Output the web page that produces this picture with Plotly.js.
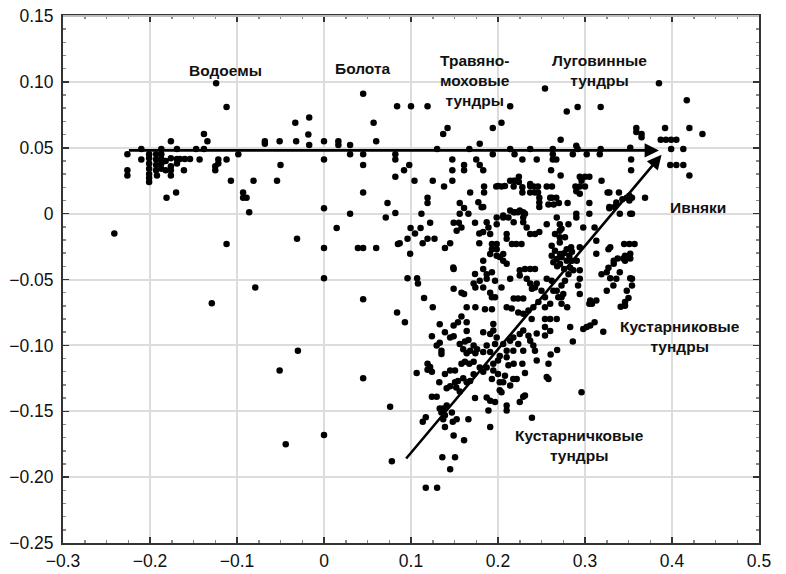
<!DOCTYPE html>
<html><head><meta charset="utf-8">
<script src="https://cdn.plot.ly/plotly-3.0.1.min.js"></script>
<style>html,body{margin:0;padding:0;background:#fff}#chart{width:786px;height:574px}</style>
</head><body><div id="chart"></div>
<script>
// ---- data (ordination scores) ----
const westPoints = [
[-0.241,-0.015],[-0.226,0.045],[-0.226,0.033],[-0.226,0.029],[-0.210,0.041],[-0.210,0.049],
[-0.201,0.045],[-0.201,0.042],[-0.201,0.038],[-0.201,0.034],[-0.201,0.030],[-0.201,0.027],[-0.201,0.024],
[-0.193,0.045],[-0.193,0.041],[-0.193,0.037],[-0.193,0.033],[-0.192,0.029],
[-0.187,0.049],[-0.187,0.045],[-0.187,0.0415],[-0.187,0.038],[-0.187,0.034],
[-0.182,0.040],[-0.182,0.033],[-0.181,0.012],
[-0.176,0.055],[-0.176,0.042],[-0.176,0.036],[-0.176,0.033],[-0.176,0.029],[-0.170,0.016],
[-0.169,0.0415],[-0.169,0.038],[-0.169,0.049],[-0.1655,0.0415],[-0.160,0.0415],[-0.154,0.0415],[-0.161,0.033],
[-0.147,0.049],[-0.143,0.041],[-0.138,0.0605],[-0.138,0.049],[-0.134,0.055],[-0.125,0.036],[-0.125,0.033],
[-0.124,0.099],[-0.1215,0.041],[-0.1215,0.038],[-0.112,0.081],[-0.112,0.041],[-0.112,-0.023],
[-0.107,0.025],[-0.0985,0.045],[-0.093,0.016],[-0.093,0.012],[-0.089,0.012],[-0.086,0.001],[-0.081,0.025],
[-0.079,-0.056],[-0.068,0.055],[-0.068,0.053],[-0.054,0.025],[-0.051,0.055],[-0.050,0.037],
[-0.033,0.069],[-0.032,0.055],[-0.031,-0.019],[-0.018,0.060],[-0.017,0.073],[-0.017,0.052],
[-0.129,-0.068],[-0.051,-0.119],[-0.030,-0.104],[-0.044,-0.175]
];
const nearZeroPoints = [
[0,0.055],[0,0.041],[0,0.004],[0,-0.026],[0,-0.049],[0,-0.168],[0.0146,-0.011],[0.0165,0.055],[0.0165,0.052],
[0.030,0.052],[0.030,0.045],[0.030,0.0],[0.039,-0.026],[0.045,0.091],[0.045,0.045],[0.045,0.037],[0.045,0.016],
[0.045,-0.026],[0.045,-0.065],[0.045,-0.125],[0.057,0.069],[0.060,0.055],[0.060,-0.026],[0.071,-0.003],[0.073,0.008],
[0.076,-0.1465],[0.078,-0.188],[0.082,0.0005],[0.082,0.045],[0.082,0.041],[0.082,0.028],[0.084,0.0815],[0.084,-0.075],
[0.085,-0.023],[0.092,0.033],[0.098,0.037],[0.100,0.0815],[0.087,-0.0225],[0.096,-0.019],[0.0995,-0.011],
[0.099,-0.0305],[0.093,-0.0825],[0.096,-0.049]
];
const midPoints = [
[0.104,0.025],[0.1046,-0.015],[0.107,-0.049],[0.108,-0.053],[0.111,-0.011],[0.112,0.0],[0.1134,-0.0225],[0.115,-0.064],
[0.119,0.0815],[0.119,0.012],[0.119,0.008],[0.119,-0.019],[0.122,-0.007],[0.125,0.025],[0.125,-0.071],[0.127,-0.019],
[0.130,0.049],[0.137,0.0605],[0.142,0.065],[0.138,0.0205],[0.1475,0.041],[0.1475,0.033],[0.1475,0.025],
[0.139,-0.026],[0.145,-0.0225],[0.149,-0.007],[0.155,-0.007],[0.149,-0.042],[0.156,0.008],[0.156,0.0],[0.161,0.0043],
[0.166,0.0],[0.161,0.037],[0.161,0.033],[0.167,0.049],[0.168,0.016],[0.1525,-0.013],[0.158,-0.0105],
[0.149,-0.057],[0.158,-0.060],[0.161,-0.061],[0.172,-0.053],[0.174,-0.056],[0.164,-0.071],[0.174,-0.071],[0.158,-0.078],
[0.1736,-0.007],[0.1785,-0.015],[0.1785,-0.0225],[0.1774,0.0086],[0.1812,0.0048],[0.1486,-0.0408],[0.1736,-0.0458],
[0.179,-0.051],[0.183,-0.056],[0.191,-0.060],[0.1966,-0.0635]
];
const upperCorePoints = [
[0.175,0.041],[0.179,0.037],[0.183,0.033],[0.184,0.0205],[0.184,0.016],[0.179,0.053],[0.194,0.045],[0.194,0.065],
[0.204,0.069],[0.214,0.0815],[0.198,0.0205],[0.204,0.0205],[0.214,0.049],[0.219,0.045],[0.214,0.025],[0.220,0.025],
[0.224,0.028],[0.228,0.041],[0.218,0.0205],[0.228,0.016],[0.237,0.016],[0.237,0.049],[0.237,0.0225],
[0.200,0.021],[0.208,0.021],[0.218,0.025],[0.224,0.024],[0.228,0.020],[0.237,0.021],[0.2425,0.016],
[0.2475,0.012],[0.2475,0.0085],[0.2475,0.005],[0.2445,0.041],[0.246,0.0205],[0.246,0.016],
[0.214,0.0023],[0.2195,0.001],[0.225,0.0023],[0.231,0.0],[0.206,-0.0015],[0.1985,-0.003],[0.183,0.005],
[0.206,-0.003],[0.212,-0.003],[0.218,0.001],[0.223,0.001],[0.229,0.001],[0.218,-0.0065],[0.229,-0.003],
[0.229,-0.0065],[0.233,-0.0105],[0.187,-0.0065],[0.1985,-0.008],[0.183,-0.014],[0.189,-0.0105],[0.191,-0.0155],
[0.210,-0.0155],[0.210,-0.019],[0.237,-0.0155],[0.2425,-0.0155],[0.2475,-0.014],[0.216,-0.023],[0.221,-0.023],
[0.227,-0.023],[0.193,-0.023],[0.193,-0.027],[0.1985,-0.027],[0.1985,-0.032],[0.183,-0.0357],[0.202,-0.033],
[0.206,-0.0357],[0.1985,-0.023],[0.206,-0.0306],[0.191,-0.0306],[0.21,-0.038]
];
const eastPoints = [
[0.254,0.095],[0.279,0.0775],[0.2915,0.081],[0.318,0.081],[0.385,0.099],[0.417,0.086],[0.359,0.065],[0.359,0.062],
[0.365,0.0605],[0.365,0.058],[0.392,0.065],[0.420,0.065],[0.435,0.0605],[0.387,0.056],[0.393,0.056],[0.399,0.056],
[0.405,0.056],[0.399,0.049],[0.413,0.049],[0.398,0.037],[0.405,0.037],[0.413,0.037],[0.420,0.029],
[0.352,0.050],[0.353,0.041],[0.353,0.033],[0.272,0.056],[0.290,0.0515],[0.2915,0.049],[0.318,0.049],[0.302,0.045],
[0.317,0.045],[0.286,0.045],[0.263,0.049],[0.263,0.045],[0.263,0.041],[0.267,0.041],[0.261,0.033],[0.272,0.029],
[0.294,0.028],[0.300,0.028],[0.305,0.028],[0.296,0.025],[0.319,0.025],[0.241,0.0205],[0.256,0.0205],[0.262,0.0205],
[0.289,0.0205],[0.294,0.0205],[0.300,0.0205],[0.262,0.012],[0.267,0.012],[0.290,0.017],[0.326,0.016],[0.339,0.016],
[0.348,0.012],[0.354,0.012],[0.369,0.012],[0.351,0.010],[0.305,0.008],[0.305,0.0],[0.294,0.015],[0.352,0.0],
[0.328,0.004],[0.298,-0.0105],[0.311,-0.0105],[0.313,-0.0205],[0.327,-0.027],[0.345,-0.023],[0.351,-0.023],
[0.357,-0.023],[0.352,-0.0305],[0.352,-0.034],[0.344,-0.034],[0.3375,-0.034],[0.327,-0.041],[0.333,-0.038],
[0.352,-0.049],[0.329,-0.049],[0.284,-0.0255],[0.271,-0.013],[0.256,-0.008],[0.26,0.012],[0.258,0.007],
[0.264,0.007],[0.270,0.008],[0.280,0.008],[0.290,0.0],[0.290,-0.003],[0.328,0.016],[0.336,0.0085],[0.343,0.011],
[0.351,0.0135],[0.328,0.005],[0.334,0.005],[0.340,0.0],[0.354,0.0],[0.2675,-0.003],[0.271,-0.008],[0.273,-0.0115],
[0.281,-0.008],[0.2655,-0.0155],[0.271,-0.018],[0.277,-0.018],[0.271,-0.022],[0.294,-0.0255],[0.313,-0.0305],
[0.329,-0.0255],[0.346,-0.032],[0.346,-0.0357],[0.333,-0.0357],[0.325,-0.0445],[0.319,-0.046],[0.340,-0.0445],
[0.336,-0.0495],[0.354,-0.0495],[0.294,-0.043],[0.294,-0.0495],[0.292,-0.0545]
];
const denseCorePoints = [
[0.2617,-0.0243],[0.2655,-0.0281],[0.2713,-0.0306],[0.2617,-0.0319],[0.2675,-0.0344],[0.273,-0.0332],[0.279,-0.0357],
[0.285,-0.0357],[0.2905,-0.0357],[0.2636,-0.037],[0.2713,-0.0382],[0.276,-0.030],[0.282,-0.032],[0.268,-0.040],
[0.276,-0.042],[0.285,-0.029],[0.279,-0.027],
[0.225,-0.043],[0.231,-0.042],[0.237,-0.042],[0.2425,-0.042],[0.225,-0.047],[0.233,-0.0495],[0.237,-0.053],
[0.2425,-0.056],[0.239,-0.057],[0.193,-0.0635],[0.218,-0.0645],[0.223,-0.0645],[0.229,-0.0645],[0.185,-0.0725],
[0.193,-0.0725],[0.273,-0.0635],[0.273,-0.0685],[0.2795,-0.071],[0.306,-0.066],[0.313,-0.066],[0.346,-0.067],
[0.346,-0.070],[0.341,-0.0706],[0.350,-0.064],[0.305,-0.0685],[0.308,-0.0685],
[0.183,-0.042],[0.187,-0.046],[0.193,-0.0445],[0.187,-0.0495],[0.1966,-0.051],[0.204,-0.056],[0.214,-0.0495],
[0.256,-0.0495],[0.2617,-0.051],[0.2636,-0.0585],[0.2693,-0.0635],[0.275,-0.061],[0.26,-0.0685],[0.21,-0.071],
[0.2157,-0.072],[0.2233,-0.075],[0.229,-0.076],[0.235,-0.0736],[0.2387,-0.080],[0.254,-0.080],[0.26,-0.080],
[0.2675,-0.080],[0.283,-0.041],[0.2866,-0.043],[0.281,-0.046],[0.277,-0.051],[0.273,-0.0546],[0.2675,-0.0585],
[0.2445,-0.053],[0.250,-0.0585],[0.254,-0.0635],[0.2464,-0.067],[0.2406,-0.071],[0.254,-0.071],[0.325,-0.0585],
[0.3326,-0.0546],[0.294,-0.061],[0.348,-0.0585],[0.354,-0.0546]
];
const lowerPoints = [
[0.124,-0.093],[0.1295,-0.100],[0.133,-0.098],[0.135,-0.104],[0.135,-0.1065],[0.1065,-0.121],[0.119,-0.114],
[0.122,-0.1165],[0.119,-0.1185],[0.124,-0.120],[0.1325,-0.128],[0.124,-0.139],[0.1295,-0.139],[0.117,-0.1545],
[0.1135,-0.158],[0.133,-0.148],[0.137,-0.148],[0.141,-0.1457],[0.135,-0.151],[0.139,-0.153],[0.137,-0.156],
[0.147,-0.151],[0.1525,-0.156],[0.148,-0.158],[0.139,-0.162],[0.149,-0.1685],[0.161,-0.172],[0.166,-0.156],
[0.1736,-0.140],[0.136,-0.185],[0.1506,-0.185],[0.145,-0.194],[0.139,-0.1217],[0.145,-0.119],[0.1506,-0.119],
[0.141,-0.1325],[0.145,-0.131],[0.1506,-0.128],[0.154,-0.127],[0.152,-0.132],[0.156,-0.135],[0.133,-0.084],
[0.139,-0.090],[0.149,-0.085],[0.154,-0.0825],[0.164,-0.0825],[0.145,-0.094],[0.149,-0.093],[0.156,-0.099],
[0.160,-0.103],[0.164,-0.106],[0.168,-0.104],[0.162,-0.097],[0.166,-0.096],[0.172,-0.100],[0.174,-0.106],
[0.176,-0.103],[0.158,-0.114],[0.162,-0.1125],[0.167,-0.114],[0.172,-0.1125],[0.164,-0.089],[0.160,-0.125],
[0.164,-0.128],[0.168,-0.127],[0.172,-0.122],[0.117,-0.208],[0.130,-0.208],
[0.283,-0.086],[0.298,-0.0875],[0.302,-0.086],[0.306,-0.085],[0.311,-0.0825],[0.321,-0.0896],[0.286,-0.097],
[0.268,-0.1035],[0.2605,-0.107],[0.254,-0.086],[0.254,-0.0925],[0.26,-0.089],[0.2445,-0.091],[0.2425,-0.104],
[0.229,-0.104],[0.2445,-0.1115],[0.258,-0.114],[0.228,-0.114],[0.218,-0.114],[0.212,-0.115],[0.231,-0.121],
[0.2215,-0.1255],[0.2175,-0.1255],[0.256,-0.124],[0.258,-0.1255],[0.296,-0.1355],[0.229,-0.139],[0.231,-0.138],
[0.225,-0.143],[0.21,-0.1457],[0.21,-0.1495],[0.239,-0.155],[0.204,-0.1355],[0.1966,-0.143],[0.191,-0.142],
[0.187,-0.1395],[0.189,-0.1495],[0.191,-0.162],[0.202,-0.128],[0.206,-0.128],
[0.1946,-0.0837],[0.1946,-0.0888],[0.191,-0.0913],[0.183,-0.090],[0.1985,-0.094],[0.1966,-0.099],[0.187,-0.100],
[0.183,-0.105],[0.191,-0.105],[0.202,-0.108],[0.21,-0.109],[0.2,-0.1115],[0.1946,-0.114],[0.187,-0.1167],
[0.179,-0.1167],[0.183,-0.120],[0.1946,-0.119],[0.2,-0.1217],[0.208,-0.123],[0.193,-0.1255],[0.202,-0.134],
[0.214,-0.1305],[0.214,-0.0964],[0.2176,-0.094],[0.225,-0.0913],[0.229,-0.0888],[0.235,-0.0926],[0.237,-0.0964],
[0.2406,-0.100],[0.2233,-0.099],[0.2176,-0.104],[0.21,-0.104],[0.206,-0.099]
];
const allGroups = [westPoints, nearZeroPoints, midPoints, upperCorePoints, eastPoints, denseCorePoints, lowerPoints];

// environmental vectors (tail -> head)
const vectorTailX = [-0.226, 0.093];
const vectorTailY = [0.048, -0.187];
const vectorHeadX = [0.385, 0.388];
const vectorHeadY = [0.048, 0.0446];

// habitat labels
const labelText = ['Водоемы','Болота','Травяно-<br>моховые<br>тундры','Луговинные<br>тундры','Ивняки',
  'Кустарниковые<br>тундры','Кустарничковые<br>тундры'];
const labelX = [-0.113, 0.045, 0.174, 0.317, 0.430, 0.409, 0.294];
const labelY = [0.109, 0.110, 0.101, 0.109, 0.0046, -0.093, -0.176];

// ticks
const xTickVals = [-0.3,-0.2,-0.1,0,0.1,0.2,0.3,0.4,0.5];
const xTickText = ['\u22120.3','\u22120.2','\u22120.1','0','0.1','0.2','0.3','0.4','0.5'];
const yTickVals = [0.15,0.10,0.05,0,-0.05,-0.10,-0.15,-0.20,-0.25];
const yTickText = ['0.15','0.10','0.05','0','\u22120.05','\u22120.10','\u22120.15','\u22120.20','\u22120.25'];

// ---- build ----
const px = [], py = [];
allGroups.forEach(g => g.forEach(p => { px.push(p[0]); py.push(p[1]); }));

const traces = [{
  type:'scatter', mode:'markers', x:px, y:py,
  marker:{color:'#000', size:6.5, line:{width:0}},
  hoverinfo:'x+y', showlegend:false
}];

const annotations = [];
for (let i=0;i<vectorTailX.length;i++){
  annotations.push({x:vectorHeadX[i], y:vectorHeadY[i], ax:vectorTailX[i], ay:vectorTailY[i],
    xref:'x', yref:'y', axref:'x', ayref:'y', text:'', showarrow:true,
    arrowhead:2, arrowsize:1.1, arrowwidth:2.6, arrowcolor:'#000', standoff:0, startstandoff:0});
}
for (let i=0;i<labelText.length;i++){
  annotations.push({x:labelX[i], y:labelY[i], xref:'x', yref:'y', text:'<b>'+labelText[i]+'</b>',
    showarrow:false, xanchor:'center', yanchor:'middle', align:'center',
    font:{family:'Liberation Sans, Arial, sans-serif', size:15.5, color:'#111'}});
}

const axisCommon = {
  showgrid:true, gridcolor:'#dcdcdc', gridwidth:2, zeroline:false,
  showline:true, linecolor:'#333', linewidth:2, mirror:'allticks',
  ticks:'inside', ticklen:6, tickwidth:1.5, tickcolor:'#333',
  tickfont:{family:'Liberation Sans, Arial, sans-serif', size:17.5, color:'#111'},
  tickmode:'array'
};

const layout = {
  width:786, height:574, margin:{l:63, r:27, t:16, b:31},
  paper_bgcolor:'#fff', plot_bgcolor:'#fff',
  xaxis: Object.assign({}, axisCommon, {range:[-0.3,0.5], tickvals:xTickVals, ticktext:xTickText,
    ticklabelstandoff:1,
    minor:{dtick:0.025, ticks:'inside', ticklen:3, tickcolor:'#888', showgrid:false}}),
  yaxis: Object.assign({}, axisCommon, {range:[-0.25,0.15], tickvals:yTickVals, ticktext:yTickText,
    ticklabelstandoff:4,
    minor:{dtick:0.01, ticks:'inside', ticklen:3, tickcolor:'#888', showgrid:false}}),
  annotations: annotations,
  shapes:[{type:'line', xref:'paper', yref:'paper', x0:0, x1:1, y0:1, y1:1, layer:'above',
    line:{color:'#bdbdbd', width:2}}]
};

Plotly.newPlot('chart', traces, layout, {staticPlot:true, displayModeBar:false});
</script></body></html>
